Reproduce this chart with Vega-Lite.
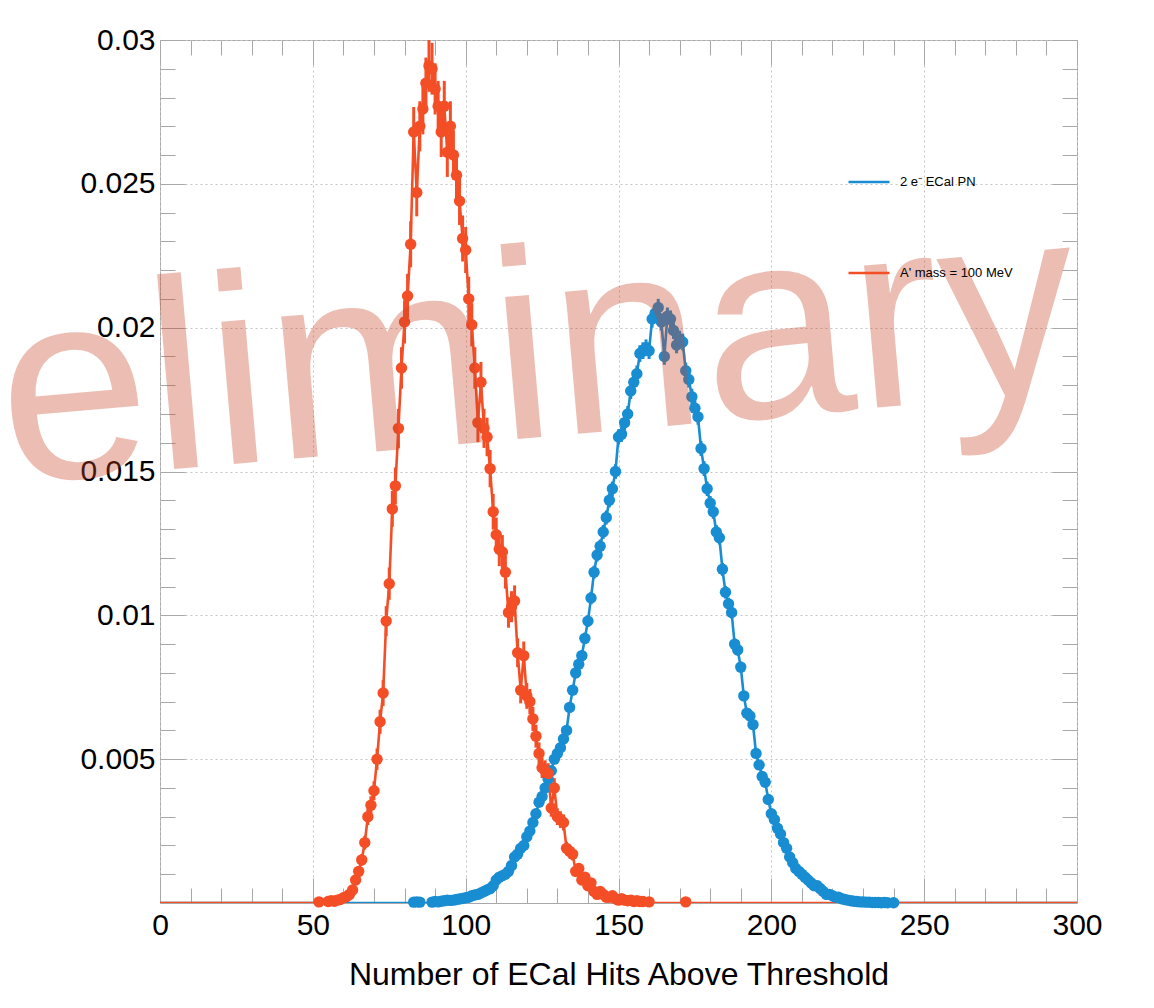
{
  "$schema": "https://vega.github.io/schema/vega-lite/v6.json",
  "width": 917,
  "height": 863,
  "autosize": {"type": "none"},
  "padding": {"left": 160, "top": 40, "right": 77, "bottom": 105},
  "background": "white",
  "config": {
    "view": {"stroke": "#a8a8a8", "strokeWidth": 1},
    "font": "Liberation Sans",
    "axis": {"domain": false, "tickColor": "#a8a8a8", "tickWidth": 1, "labelFont": "Liberation Sans", "labelColor": "#000000", "titleFont": "Liberation Sans", "titleColor": "#000000", "gridColor": "#c4c4c4", "gridDash": [2, 3], "gridWidth": 1}
  },
  "data": {"values": [
    {"s":"pn","x":0,"y":0,"e":0},{"s":"pn","x":82,"y":0,"e":0},
    {"s":"pn","x":83,"y":0.00003,"e":0.000012},{"s":"pn","x":84,"y":0.00004,"e":0.000013},{"s":"pn","x":85,"y":0.00003,"e":0.000012},
    {"s":"pn","x":86,"y":0,"e":0},{"s":"pn","x":87,"y":0,"e":0},{"s":"pn","x":88,"y":0,"e":0},
    {"s":"pn","x":89,"y":0.00003,"e":0.000012},{"s":"pn","x":90,"y":0.00005,"e":0.000015},{"s":"pn","x":91,"y":0.00004,"e":0.000013},
    {"s":"pn","x":92,"y":0.00006,"e":0.000016},{"s":"pn","x":93,"y":0.00008,"e":0.000019},{"s":"pn","x":94,"y":0.0001,"e":0.000021},
    {"s":"pn","x":95,"y":0.00009,"e":0.00002},{"s":"pn","x":96,"y":0.0001,"e":0.000021},{"s":"pn","x":97,"y":0.00012,"e":0.000023},
    {"s":"pn","x":98,"y":0.00014,"e":0.000025},{"s":"pn","x":99,"y":0.00016,"e":0.000027},{"s":"pn","x":100,"y":0.00018,"e":0.000028},
    {"s":"pn","x":101,"y":0.0002,"e":0.00003},{"s":"pn","x":102,"y":0.00025,"e":0.000033},{"s":"pn","x":103,"y":0.00028,"e":0.000035},
    {"s":"pn","x":104,"y":0.0003,"e":0.000036},{"s":"pn","x":105,"y":0.00035,"e":0.000039},{"s":"pn","x":106,"y":0.0004,"e":0.000042},
    {"s":"pn","x":107,"y":0.00045,"e":0.000045},{"s":"pn","x":108,"y":0.0005,"e":0.000047},{"s":"pn","x":109,"y":0.0006,"e":0.000051},
    {"s":"pn","x":110,"y":0.0008,"e":0.000059},{"s":"pn","x":111,"y":0.0009,"e":0.000063},{"s":"pn","x":112,"y":0.00095,"e":0.000065},
    {"s":"pn","x":113,"y":0.001,"e":0.000066},{"s":"pn","x":114,"y":0.0011,"e":0.00007},{"s":"pn","x":115,"y":0.0013,"e":0.000076},
    {"s":"pn","x":116,"y":0.0016,"e":0.000084},{"s":"pn","x":117,"y":0.0017,"e":0.000087},{"s":"pn","x":118,"y":0.0019,"e":0.000092},
    {"s":"pn","x":119,"y":0.002,"e":0.000094},{"s":"pn","x":120,"y":0.0023,"e":0.0001},{"s":"pn","x":121,"y":0.0025,"e":0.000105},
    {"s":"pn","x":122,"y":0.0028,"e":0.00011},{"s":"pn","x":123,"y":0.0031,"e":0.000117},{"s":"pn","x":124,"y":0.0035,"e":0.000124},
    {"s":"pn","x":125,"y":0.0037,"e":0.000128},{"s":"pn","x":126,"y":0.004,"e":0.000133},{"s":"pn","x":127,"y":0.0043,"e":0.000138},
    {"s":"pn","x":128,"y":0.0046,"e":0.000142},{"s":"pn","x":129,"y":0.005,"e":0.000148},{"s":"pn","x":130,"y":0.0052,"e":0.000151},
    {"s":"pn","x":131,"y":0.0054,"e":0.000154},{"s":"pn","x":132,"y":0.0057,"e":0.000158},{"s":"pn","x":133,"y":0.006,"e":0.000163},
    {"s":"pn","x":134,"y":0.0068,"e":0.000173},{"s":"pn","x":135,"y":0.0074,"e":0.00018},{"s":"pn","x":136,"y":0.008,"e":0.000188},
    {"s":"pn","x":137,"y":0.0083,"e":0.000191},{"s":"pn","x":138,"y":0.0086,"e":0.000195},{"s":"pn","x":139,"y":0.0092,"e":0.000201},
    {"s":"pn","x":140,"y":0.0098,"e":0.000208},{"s":"pn","x":141,"y":0.0106,"e":0.000216},{"s":"pn","x":142,"y":0.0115,"e":0.000225},
    {"s":"pn","x":143,"y":0.0121,"e":0.000231},{"s":"pn","x":144,"y":0.0124,"e":0.000234},{"s":"pn","x":145,"y":0.0129,"e":0.000239},
    {"s":"pn","x":146,"y":0.0134,"e":0.000243},{"s":"pn","x":147,"y":0.014,"e":0.000248},{"s":"pn","x":148,"y":0.0144,"e":0.000252},
    {"s":"pn","x":149,"y":0.015,"e":0.000257},{"s":"pn","x":150,"y":0.0162,"e":0.000267},{"s":"pn","x":151,"y":0.0163,"e":0.000268},
    {"s":"pn","x":152,"y":0.0167,"e":0.000271},{"s":"pn","x":153,"y":0.017,"e":0.000274},{"s":"pn","x":154,"y":0.0178,"e":0.00028},
    {"s":"pn","x":155,"y":0.0181,"e":0.000283},{"s":"pn","x":156,"y":0.0184,"e":0.000285},{"s":"pn","x":157,"y":0.0191,"e":0.00029},
    {"s":"pn","x":158,"y":0.0192,"e":0.000291},{"s":"pn","x":159,"y":0.0193,"e":0.000292},{"s":"pn","x":160,"y":0.0192,"e":0.000291},
    {"s":"pn","x":161,"y":0.0203,"e":0.000299},{"s":"pn","x":162,"y":0.0205,"e":0.000301},{"s":"pn","x":163,"y":0.0207,"e":0.000302},
    {"s":"pn","x":164,"y":0.0202,"e":0.000298},{"s":"pn","x":165,"y":0.019,"e":0.00029},{"s":"pn","x":166,"y":0.0204,"e":0.0003},
    {"s":"pn","x":167,"y":0.0203,"e":0.000299},{"s":"pn","x":168,"y":0.0199,"e":0.000296},{"s":"pn","x":169,"y":0.0194,"e":0.000292},
    {"s":"pn","x":170,"y":0.0196,"e":0.000294},{"s":"pn","x":171,"y":0.0195,"e":0.000293},{"s":"pn","x":172,"y":0.0185,"e":0.000286},
    {"s":"pn","x":173,"y":0.0182,"e":0.000283},{"s":"pn","x":174,"y":0.0176,"e":0.000279},{"s":"pn","x":175,"y":0.0172,"e":0.000275},
    {"s":"pn","x":176,"y":0.0169,"e":0.000273},{"s":"pn","x":177,"y":0.0158,"e":0.000264},{"s":"pn","x":178,"y":0.0151,"e":0.000258},
    {"s":"pn","x":179,"y":0.0144,"e":0.000252},{"s":"pn","x":180,"y":0.0139,"e":0.000248},{"s":"pn","x":181,"y":0.0136,"e":0.000245},
    {"s":"pn","x":182,"y":0.0129,"e":0.000239},{"s":"pn","x":183,"y":0.0127,"e":0.000237},{"s":"pn","x":184,"y":0.0116,"e":0.000226},
    {"s":"pn","x":185,"y":0.0108,"e":0.000218},{"s":"pn","x":186,"y":0.0104,"e":0.000214},{"s":"pn","x":187,"y":0.0101,"e":0.000211},
    {"s":"pn","x":188,"y":0.009,"e":0.000199},{"s":"pn","x":189,"y":0.0088,"e":0.000197},{"s":"pn","x":190,"y":0.0082,"e":0.00019},
    {"s":"pn","x":191,"y":0.0072,"e":0.000178},{"s":"pn","x":192,"y":0.0066,"e":0.000171},{"s":"pn","x":193,"y":0.0065,"e":0.000169},
    {"s":"pn","x":194,"y":0.0062,"e":0.000165},{"s":"pn","x":195,"y":0.0052,"e":0.000151},{"s":"pn","x":196,"y":0.0048,"e":0.000145},
    {"s":"pn","x":197,"y":0.0044,"e":0.000139},{"s":"pn","x":198,"y":0.0042,"e":0.000136},{"s":"pn","x":199,"y":0.0036,"e":0.000126},
    {"s":"pn","x":200,"y":0.0031,"e":0.000117},{"s":"pn","x":201,"y":0.0029,"e":0.000113},{"s":"pn","x":202,"y":0.0026,"e":0.000107},
    {"s":"pn","x":203,"y":0.0024,"e":0.000103},{"s":"pn","x":204,"y":0.0021,"e":0.000096},{"s":"pn","x":205,"y":0.0019,"e":0.000092},
    {"s":"pn","x":206,"y":0.0016,"e":0.000084},{"s":"pn","x":207,"y":0.0014,"e":0.000079},{"s":"pn","x":208,"y":0.0012,"e":0.000073},
    {"s":"pn","x":209,"y":0.0011,"e":0.00007},{"s":"pn","x":210,"y":0.001,"e":0.000066},{"s":"pn","x":211,"y":0.0009,"e":0.000063},
    {"s":"pn","x":212,"y":0.0008,"e":0.000059},{"s":"pn","x":213,"y":0.0007,"e":0.000056},{"s":"pn","x":214,"y":0.0006,"e":0.000051},
    {"s":"pn","x":215,"y":0.0006,"e":0.000051},{"s":"pn","x":216,"y":0.0005,"e":0.000047},{"s":"pn","x":217,"y":0.0004,"e":0.000042},
    {"s":"pn","x":218,"y":0.0003,"e":0.000036},{"s":"pn","x":219,"y":0.0003,"e":0.000036},{"s":"pn","x":220,"y":0.00025,"e":0.000033},
    {"s":"pn","x":221,"y":0.0002,"e":0.00003},{"s":"pn","x":222,"y":0.0002,"e":0.00003},{"s":"pn","x":223,"y":0.00015,"e":0.000026},
    {"s":"pn","x":224,"y":0.00012,"e":0.000023},{"s":"pn","x":225,"y":0.0001,"e":0.000021},{"s":"pn","x":226,"y":0.00008,"e":0.000019},
    {"s":"pn","x":227,"y":0.00006,"e":0.000016},{"s":"pn","x":228,"y":0.00005,"e":0.000015},{"s":"pn","x":229,"y":0.00004,"e":0.000013},
    {"s":"pn","x":230,"y":0.00004,"e":0.000013},{"s":"pn","x":231,"y":0.00003,"e":0.000012},{"s":"pn","x":232,"y":0.00003,"e":0.000012},
    {"s":"pn","x":233,"y":0.00002,"e":0.00001},{"s":"pn","x":234,"y":0.00002,"e":0.00001},{"s":"pn","x":235,"y":0.00002,"e":0.00001},
    {"s":"pn","x":236,"y":0.00001,"e":0.000007},{"s":"pn","x":237,"y":0.00002,"e":0.00001},{"s":"pn","x":238,"y":0.00001,"e":0.000007},
    {"s":"pn","x":239,"y":0,"e":0},{"s":"pn","x":240,"y":0.00001,"e":0.000007},{"s":"pn","x":241,"y":0,"e":0},{"s":"pn","x":300,"y":0,"e":0},
    {"s":"ap","x":0,"y":0,"e":0},{"s":"ap","x":51,"y":0,"e":0},
    {"s":"ap","x":52,"y":0.00004,"e":0.000034},{"s":"ap","x":53,"y":0,"e":0},{"s":"ap","x":54,"y":0,"e":0},
    {"s":"ap","x":55,"y":0.00005,"e":0.00004},{"s":"ap","x":56,"y":0.00008,"e":0.000047},{"s":"ap","x":57,"y":0.00006,"e":0.000041},
    {"s":"ap","x":58,"y":0.0001,"e":0.000053},{"s":"ap","x":59,"y":0.00012,"e":0.000058},{"s":"ap","x":60,"y":0.00018,"e":0.000071},
    {"s":"ap","x":61,"y":0.00022,"e":0.000079},{"s":"ap","x":62,"y":0.0003,"e":0.000092},{"s":"ap","x":63,"y":0.00045,"e":0.00011},
    {"s":"ap","x":64,"y":0.0008,"e":0.00015},{"s":"ap","x":65,"y":0.0011,"e":0.00018},{"s":"ap","x":66,"y":0.0015,"e":0.0002},
    {"s":"ap","x":67,"y":0.0021,"e":0.00024},{"s":"ap","x":68,"y":0.003,"e":0.00029},{"s":"ap","x":69,"y":0.0034,"e":0.00031},
    {"s":"ap","x":70,"y":0.0039,"e":0.00033},{"s":"ap","x":71,"y":0.005,"e":0.00037},{"s":"ap","x":72,"y":0.0063,"e":0.00042},
    {"s":"ap","x":73,"y":0.0073,"e":0.00045},{"s":"ap","x":74,"y":0.0098,"e":0.00052},{"s":"ap","x":75,"y":0.0111,"e":0.00056},
    {"s":"ap","x":76,"y":0.0137,"e":0.00062},{"s":"ap","x":77,"y":0.0145,"e":0.00064},{"s":"ap","x":78,"y":0.0165,"e":0.00068},
    {"s":"ap","x":79,"y":0.0186,"e":0.00072},{"s":"ap","x":80,"y":0.0202,"e":0.00075},{"s":"ap","x":81,"y":0.0211,"e":0.00077},
    {"s":"ap","x":82,"y":0.0229,"e":0.0008},{"s":"ap","x":83,"y":0.0268,"e":0.00087},{"s":"ap","x":84,"y":0.0247,"e":0.00083},
    {"s":"ap","x":85,"y":0.027,"e":0.00087},{"s":"ap","x":86,"y":0.0276,"e":0.00088},{"s":"ap","x":87,"y":0.0285,"e":0.00089},
    {"s":"ap","x":88,"y":0.0291,"e":0.0009},{"s":"ap","x":89,"y":0.029,"e":0.0009},{"s":"ap","x":90,"y":0.0283,"e":0.00089},
    {"s":"ap","x":91,"y":0.0277,"e":0.00088},{"s":"ap","x":92,"y":0.0268,"e":0.00087},{"s":"ap","x":93,"y":0.0277,"e":0.00088},
    {"s":"ap","x":94,"y":0.0261,"e":0.00086},{"s":"ap","x":95,"y":0.027,"e":0.00087},{"s":"ap","x":96,"y":0.026,"e":0.00085},
    {"s":"ap","x":97,"y":0.0253,"e":0.00084},{"s":"ap","x":98,"y":0.0244,"e":0.00083},{"s":"ap","x":99,"y":0.0231,"e":0.0008},
    {"s":"ap","x":100,"y":0.0227,"e":0.0008},{"s":"ap","x":101,"y":0.021,"e":0.00077},{"s":"ap","x":102,"y":0.0201,"e":0.00075},
    {"s":"ap","x":103,"y":0.0186,"e":0.00072},{"s":"ap","x":104,"y":0.0167,"e":0.00068},{"s":"ap","x":105,"y":0.0181,"e":0.00071},
    {"s":"ap","x":106,"y":0.0165,"e":0.00068},{"s":"ap","x":107,"y":0.0162,"e":0.00067},{"s":"ap","x":108,"y":0.0151,"e":0.00065},
    {"s":"ap","x":109,"y":0.0136,"e":0.00062},{"s":"ap","x":110,"y":0.0128,"e":0.0006},{"s":"ap","x":111,"y":0.0123,"e":0.00059},
    {"s":"ap","x":112,"y":0.0122,"e":0.00059},{"s":"ap","x":113,"y":0.0115,"e":0.00057},{"s":"ap","x":114,"y":0.0101,"e":0.00053},
    {"s":"ap","x":115,"y":0.0103,"e":0.00054},{"s":"ap","x":116,"y":0.0105,"e":0.00054},{"s":"ap","x":117,"y":0.0087,"e":0.0005},
    {"s":"ap","x":118,"y":0.0074,"e":0.00046},{"s":"ap","x":119,"y":0.0086,"e":0.00049},{"s":"ap","x":120,"y":0.0072,"e":0.00045},
    {"s":"ap","x":121,"y":0.007,"e":0.00044},{"s":"ap","x":122,"y":0.0064,"e":0.00042},{"s":"ap","x":123,"y":0.0058,"e":0.0004},
    {"s":"ap","x":124,"y":0.0052,"e":0.00038},{"s":"ap","x":125,"y":0.0047,"e":0.00036},{"s":"ap","x":126,"y":0.0046,"e":0.00036},
    {"s":"ap","x":127,"y":0.0045,"e":0.00036},{"s":"ap","x":128,"y":0.0033,"e":0.0003},{"s":"ap","x":129,"y":0.004,"e":0.00034},
    {"s":"ap","x":130,"y":0.003,"e":0.00029},{"s":"ap","x":131,"y":0.0029,"e":0.00029},{"s":"ap","x":132,"y":0.0028,"e":0.00028},
    {"s":"ap","x":133,"y":0.0019,"e":0.00023},{"s":"ap","x":134,"y":0.0018,"e":0.00022},{"s":"ap","x":135,"y":0.0017,"e":0.00022},
    {"s":"ap","x":136,"y":0.0011,"e":0.00018},{"s":"ap","x":137,"y":0.0012,"e":0.00018},{"s":"ap","x":138,"y":0.0008,"e":0.00015},
    {"s":"ap","x":139,"y":0.0009,"e":0.00016},{"s":"ap","x":140,"y":0.0006,"e":0.00013},{"s":"ap","x":141,"y":0.0007,"e":0.00014},
    {"s":"ap","x":142,"y":0.0004,"e":0.00011},{"s":"ap","x":143,"y":0.0003,"e":0.00009},{"s":"ap","x":144,"y":0.0004,"e":0.00011},
    {"s":"ap","x":145,"y":0.0003,"e":0.00009},{"s":"ap","x":146,"y":0.0002,"e":0.000075},{"s":"ap","x":147,"y":0.0002,"e":0.000075},
    {"s":"ap","x":148,"y":0.00025,"e":0.000084},{"s":"ap","x":149,"y":0.00015,"e":0.000065},{"s":"ap","x":150,"y":0.0001,"e":0.000053},
    {"s":"ap","x":151,"y":0.00015,"e":0.000065},{"s":"ap","x":152,"y":0.0001,"e":0.000053},{"s":"ap","x":153,"y":0.00008,"e":0.000047},
    {"s":"ap","x":154,"y":0.0001,"e":0.000053},{"s":"ap","x":155,"y":0.00005,"e":0.00004},{"s":"ap","x":156,"y":0.00008,"e":0.000047},
    {"s":"ap","x":157,"y":0.00005,"e":0.00004},{"s":"ap","x":158,"y":0.00005,"e":0.00004},{"s":"ap","x":159,"y":0,"e":0},
    {"s":"ap","x":160,"y":0.00004,"e":0.000034},{"s":"ap","x":161,"y":0,"e":0},{"s":"ap","x":171,"y":0,"e":0},
    {"s":"ap","x":172,"y":0.00004,"e":0.000034},{"s":"ap","x":173,"y":0,"e":0},{"s":"ap","x":300,"y":0,"e":0}
  ]},
  "resolve": {"axis": {"x": "independent", "y": "independent"}},
  "layer": [
    {
      "mark": {"type": "line", "strokeWidth": 2.6, "clip": true},
      "encoding": {
        "x": {"field": "x", "type": "quantitative", "scale": {"domain": [0, 300], "nice": false, "zero": false},
          "axis": {"orient": "bottom", "values": [0, 50, 100, 150, 200, 250, 300], "tickSize": -25, "labelFontSize": 30, "labelPadding": 32, "labelFlush": false, "grid": true, "gridDash": [2, 3],
            "title": "Number of ECal Hits Above Threshold", "titleFontSize": 32, "titleFontWeight": "normal", "titleBaseline": "alphabetic", "titleY": 81}},
        "y": {"field": "y", "type": "quantitative", "scale": {"domain": [0, 0.03], "nice": false, "zero": false},
          "axis": {"orient": "left", "values": [0.005, 0.01, 0.015, 0.02, 0.025, 0.03], "format": "~g", "tickSize": -25, "labelFontSize": 30, "labelPadding": 30, "labelFlush": false, "grid": true, "title": null}},
        "color": {"field": "s", "type": "nominal", "scale": {"domain": ["pn", "ap"], "range": ["#198dd2", "#f44e27"]},
          "legend": {"orient": "none", "legendX": 687, "legendY": 120, "title": null, "symbolType": "stroke", "symbolSize": 1681, "symbolStrokeWidth": 2.5, "labelFontSize": 13, "labelFont": "Liberation Sans", "labelColor": "#000000", "labelOffset": 9, "rowPadding": 62, "padding": 0,
            "labelExpr": "datum.value == 'pn' ? '2 e⁻ ECal PN' : \"A' mass = 100 MeV\""}}
      }
    },
    {
      "transform": [{"filter": "datum.y > 0"}],
      "mark": {"type": "errorbar", "thickness": 3, "ticks": false},
      "encoding": {
        "x": {"field": "x", "type": "quantitative",
          "axis": {"orient": "bottom", "values": [10, 20, 30, 40, 60, 70, 80, 90, 110, 120, 130, 140, 160, 170, 180, 190, 210, 220, 230, 240, 260, 270, 280, 290], "tickSize": -15, "labels": false, "grid": false, "title": null}},
        "y": {"field": "y", "type": "quantitative",
          "axis": {"orient": "left", "values": [0.001, 0.002, 0.003, 0.004, 0.006, 0.007, 0.008, 0.009, 0.011, 0.012, 0.013, 0.014, 0.016, 0.017, 0.018, 0.019, 0.021, 0.022, 0.023, 0.024, 0.026, 0.027, 0.028, 0.029], "tickSize": -15, "labels": false, "grid": false, "title": null}},
        "yError": {"field": "e"},
        "color": {"field": "s", "type": "nominal"}
      }
    },
    {
      "transform": [{"filter": "datum.y > 0"}],
      "mark": {"type": "point", "filled": true, "size": 130, "opacity": 1},
      "encoding": {
        "x": {"field": "x", "type": "quantitative",
          "axis": {"orient": "top", "values": [0, 50, 100, 150, 200, 250, 300], "tickSize": -25, "labels": false, "grid": false, "title": null}},
        "y": {"field": "y", "type": "quantitative",
          "axis": {"orient": "right", "values": [0.005, 0.01, 0.015, 0.02, 0.025, 0.03], "tickSize": -25, "labels": false, "grid": false, "title": null}},
        "color": {"field": "s", "type": "nominal"}
      }
    },
    {
      "data": {"values": [{"label": "Preliminary"}]},
      "mark": {"type": "text", "fontSize": 270, "font": "Liberation Sans", "color": "#c94526", "opacity": 0.35, "align": "center", "baseline": "alphabetic", "angle": -5, "clip": false},
      "encoding": {
        "x": {"datum": 81.8, "type": "quantitative",
          "axis": {"orient": "top", "values": [10, 20, 30, 40, 60, 70, 80, 90, 110, 120, 130, 140, 160, 170, 180, 190, 210, 220, 230, 240, 260, 270, 280, 290], "tickSize": -15, "labels": false, "grid": false, "title": null}},
        "y": {"datum": 0.0158, "type": "quantitative",
          "axis": {"orient": "right", "values": [0.001, 0.002, 0.003, 0.004, 0.006, 0.007, 0.008, 0.009, 0.011, 0.012, 0.013, 0.014, 0.016, 0.017, 0.018, 0.019, 0.021, 0.022, 0.023, 0.024, 0.026, 0.027, 0.028, 0.029], "tickSize": -15, "labels": false, "grid": false, "title": null}},
        "text": {"field": "label"}
      }
    }
  ]
}
